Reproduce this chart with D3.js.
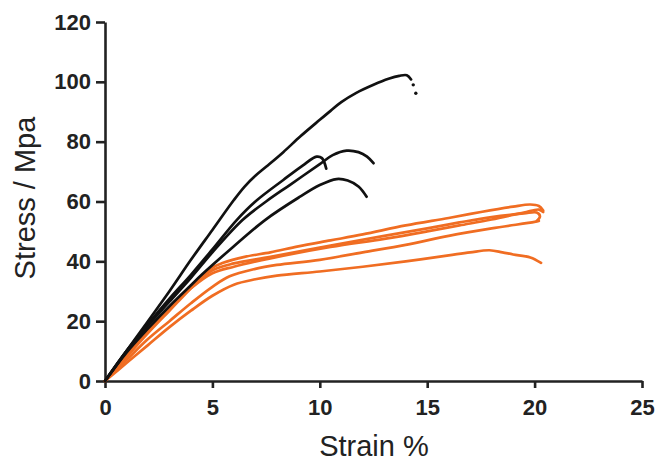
<!DOCTYPE html>
<html>
<head>
<meta charset="utf-8">
<script src="https://cdn.jsdelivr.net/npm/d3@7"></script>
<style>
  html, body { margin: 0; padding: 0; background: #fff; }
  svg { display: block; }
</style>
</head>
<body>
<svg id="chart" width="659" height="461"></svg>
<script>
// ---- data (strain %, stress MPa) ----
const xTicks = [0, 5, 10, 15, 20, 25];
const yTicks = [0, 20, 40, 60, 80, 100, 120];

const black1 = [[0,0],[1,10],[2,20],[3,30],[4,40.5],[5,50.5],[6,60.5],[6.5,65],[7,68.6],[7.5,71.6],[8.3,76.5],[9.1,81.8],[10,87.3],[10.5,90.3],[11,93.2],[11.7,96.3],[12.5,99],[13.2,101],[13.7,102],[14.05,102.2],[14.25,100.8]];
const black1Dots = [[14.35,99],[14.47,96.2]];
const black2 = [[0,0],[1,10],[2,19],[3,27.5],[4,35.5],[5,44],[6.13,53.8],[7,60],[8.3,67.2],[9.2,72],[9.85,75],[10.1,74.5],[10.3,71]];
const black3 = [[0,0],[1,10],[2,18.5],[3,26.5],[4,34.5],[5,43],[6.4,53.8],[7.5,60],[8.6,65.5],[10,72.5],[10.6,75.5],[11.25,77],[11.8,76.5],[12.2,75],[12.5,72.8]];
const black4 = [[0,0],[1,9.5],[2,17.5],[3,25],[4,32],[4.5,35.5],[5.8,43.8],[7.45,53.8],[9.08,61.6],[10,65.5],[10.78,67.5],[11.3,67],[11.8,65],[12.18,61.6]];

const orange1 = [[0,0],[1,8],[2,16],[3,23.5],[4,31],[4.9,37.5],[5.5,39.5],[6.5,41.5],[7.7,43],[9,45],[10.5,47],[12,49],[14,52],[16,54.5],[17.5,56.5],[19,58.3],[19.8,59],[20.2,58.5],[20.4,57]];
const orange2 = [[0,0],[1,8.5],[2,16.5],[3,24],[4,31.5],[5,37],[6,39.3],[7.7,41.5],[10.5,45.3],[13,48.5],[15,51],[16.5,53],[18,54.8],[19.5,56],[20.1,56.3],[20.25,55],[20.1,53.5]];
const orange3 = [[0,0],[1,9],[2,17],[3,24.5],[4,31],[5,36],[6,38.2],[7.7,41],[10.5,44.8],[13,47.5],[15,50],[16.5,52],[18,54],[19.5,56.3],[20.2,57.3],[20.4,56.5]];
const orange4 = [[0,0],[1,7],[2,14],[3,20],[4,26],[5,31.5],[5.8,35],[7,37.5],[8,38.8],[10,40.5],[12,43],[14,45.5],[16,48.5],[18,51],[20,53.2],[20.2,53.5]];
const orange5 = [[0,0],[1,6],[2,12],[3,18],[4,23.5],[5,28.5],[6,32.2],[7,34],[8,35.2],[10,36.6],[12,38.2],[14,40],[16,42],[17,43],[17.9,43.7],[18.5,43],[19,42.3],[19.8,41.3],[20.3,39.5]];

const blackSeries = [black1, black2, black3, black4];
const orangeSeries = [orange1, orange2, orange3, orange4, orange5];

// ---- drawing ----
const svg = d3.select("#chart");
const x = d3.scaleLinear().domain([0, 25]).range([105, 642]);
const y = d3.scaleLinear().domain([0, 120]).range([381, 22]);

const line = d3.line()
  .x(d => x(d[0])).y(d => y(d[1]))
  .curve(d3.curveCatmullRom.alpha(0.5));

const gx = svg.append("g")
  .attr("transform", `translate(0,${y(0)})`)
  .call(d3.axisBottom(x).tickValues(xTicks).tickSize(7).tickPadding(11).tickSizeOuter(0));
const gy = svg.append("g")
  .attr("transform", `translate(${x(0)},0)`)
  .call(d3.axisLeft(y).tickValues(yTicks).tickSize(9).tickPadding(5).tickSizeOuter(0));

[gx, gy].forEach(g => {
  g.select(".domain").attr("stroke", "#222").attr("stroke-width", 2.6);
  g.selectAll(".tick line").attr("stroke", "#222").attr("stroke-width", 2.6);
  g.selectAll(".tick text")
    .attr("fill", "#222")
    .style("font-family", "'Liberation Sans', Arial, sans-serif")
    .style("font-weight", "bold")
    .style("font-size", "22px");
});

const curves = svg.append("g").attr("fill", "none").attr("stroke-linejoin", "round").attr("stroke-linecap", "round");
curves.selectAll("path.orange").data(orangeSeries).join("path")
  .attr("class", "orange")
  .attr("d", line)
  .attr("stroke", "#f06d22")
  .attr("stroke-width", 2.7);
curves.selectAll("path.black").data(blackSeries).join("path")
  .attr("class", "black")
  .attr("d", line)
  .attr("stroke", "#111")
  .attr("stroke-width", 2.7);
svg.append("g").selectAll("circle").data(black1Dots).join("circle")
  .attr("cx", d => x(d[0])).attr("cy", d => y(d[1]))
  .attr("r", 1.7).attr("fill", "#111");

// axis titles
svg.append("text")
  .attr("x", 374).attr("y", 456)
  .attr("text-anchor", "middle")
  .style("font-family", "'Liberation Sans', Arial, sans-serif")
  .style("font-size", "29px")
  .attr("fill", "#222")
  .text("Strain %");
svg.append("text")
  .attr("transform", "translate(35,198) rotate(-90)")
  .attr("text-anchor", "middle")
  .style("font-family", "'Liberation Sans', Arial, sans-serif")
  .style("font-size", "29px")
  .attr("fill", "#222")
  .text("Stress / Mpa");
</script>
</body>
</html>
